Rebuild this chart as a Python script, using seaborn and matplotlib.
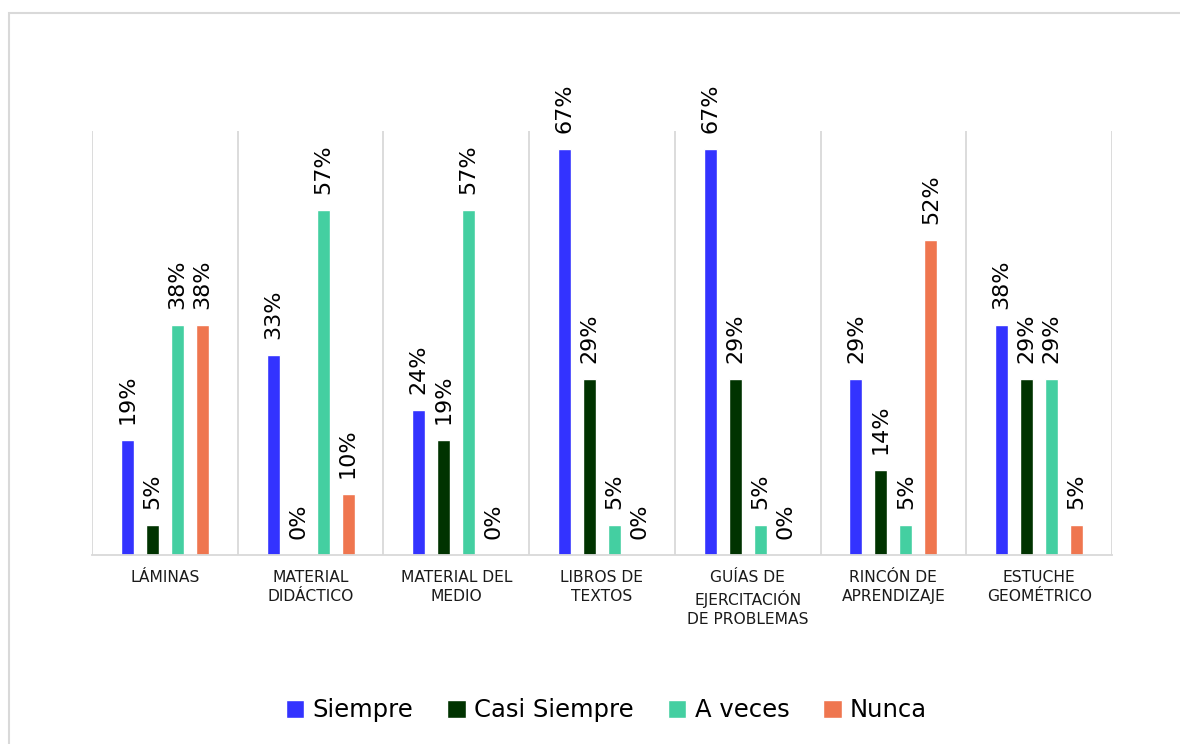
import matplotlib
matplotlib.use("Agg")
import matplotlib.pyplot as plt
from matplotlib.patches import Rectangle
import pandas as pd
import seaborn as sns

# Survey results per teaching resource (percent of answers)
categories = [
    "LÁMINAS",
    "MATERIAL\nDIDÁCTICO",
    "MATERIAL DEL\nMEDIO",
    "LIBROS DE\nTEXTOS",
    "GUÍAS DE\nEJERCITACIÓN\nDE PROBLEMAS",
    "RINCÓN DE\nAPRENDIZAJE",
    "ESTUCHE\nGEOMÉTRICO",
]
series = ["Siempre", "Casi Siempre", "A veces", "Nunca"]
siempre = [19, 33, 24, 67, 67, 29, 38]
casi_siempre = [5, 0, 19, 29, 29, 14, 29]
a_veces = [38, 57, 57, 5, 5, 5, 29]
nunca = [38, 10, 0, 0, 0, 52, 5]

colors = ["#3333FF", "#003300", "#44CFA1", "#EF764F"]

rows = []
for name, vals in zip(series, [siempre, casi_siempre, a_veces, nunca]):
    for cat, v in zip(categories, vals):
        rows.append({"categoria": cat, "serie": name, "valor": v})
df = pd.DataFrame(rows)

sns.set_theme(style="white")
plt.rcParams["font.family"] = ["DejaVu Sans"]

fig = plt.figure(figsize=(11.8, 7.44), dpi=100)
ax = fig.add_axes([92 / 1180, 1 - 555 / 744, (1112 - 92) / 1180, (555 - 131) / 744])

sns.barplot(
    data=df, x="categoria", y="valor", hue="serie",
    order=categories, hue_order=series, palette=colors,
    width=0.686, gap=0.48, saturation=1, legend=True, ax=ax,
)

for cont in ax.containers:
    ax.bar_label(cont, labels=[f"{b.get_height():.0f}%" for b in cont],
                 rotation=90, padding=11.5, fontsize=16, color="#000000",
                 clip_on=False)

ax.set_ylim(0, 70)
ax.set_xlim(-0.5, len(categories) - 0.5)

# separators between categories
for x in [i - 0.5 for i in range(len(categories) + 1)]:
    ax.axvline(x, color="#D9D9D9", lw=1.3, zorder=0)

for side in ["left", "right", "top"]:
    ax.spines[side].set_visible(False)
ax.spines["bottom"].set_color("#D9D9D9")
ax.spines["bottom"].set_linewidth(1.3)

ax.set_yticks([])
ax.set_xlabel("")
ax.set_ylabel("")
ax.tick_params(axis="x", length=0, pad=11)
for lbl in ax.get_xticklabels():
    lbl.set_fontsize(11.2)
    lbl.set_color("#1a1a1a")
    lbl.set_linespacing(1.32)
    lbl.set_verticalalignment("top")

handles, labels = ax.get_legend_handles_labels()
ax.get_legend().remove()
fig.legend(handles, labels, loc="lower center", bbox_to_anchor=(0.514, 0.0),
           ncol=4, frameon=False, fontsize=17.5, labelcolor="#000000",
           handlelength=0.75, handleheight=0.75, handletextpad=0.35,
           columnspacing=1.4)

# outer chart frame
fig.patches.append(Rectangle((9 / 1180, -0.1), 1.2, (744 - 13) / 744 + 0.1,
                             transform=fig.transFigure, fill=False,
                             edgecolor="#D9D9D9", lw=1.5))

fig.savefig("out.png", dpi=100, facecolor="white")
